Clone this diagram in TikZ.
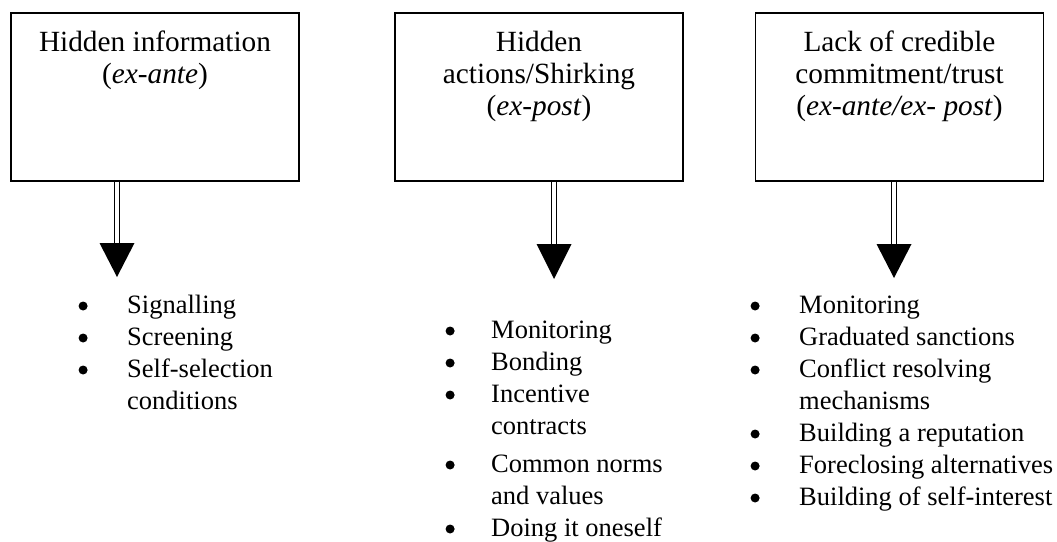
\documentclass[tikz,border=0pt]{standalone}
\usepackage{fontspec}
\setmainfont{Liberation Serif}
\usetikzlibrary{calc}

\tikzset{
  problembox/.style={draw, line width=1.6pt, minimum width=288pt, minimum height=168pt, inner sep=0pt},
  headtext/.style={anchor=base, inner sep=0pt, font=\fontsize{29.3}{32}\selectfont},
  listtext/.style={anchor=base west, inner sep=0pt, font=\fontsize{26.5}{32}\selectfont},
  shaft/.style={double, line width=1.3pt, double distance=3.7pt},
  headfill/.style={fill=black}
}

% round list bullet, sized like a word-processor bullet
\newcommand{\listdot}{\makebox[9.3pt][l]{\tikz[baseline=0pt]\fill (4.65pt,7pt) circle (4.5pt);}}

\begin{document}
\begin{tikzpicture}[x=1pt,y=-1pt]
\useasboundingbox (0,0) rectangle (1057,541);

% the three problem boxes
\node[problembox] (b1) at (155,97) {};
\node[problembox] (b2) at (539,97) {};
\node[problembox] (b3) at (899.5,97) {};

% box titles
\node[headtext] (t1) at (155,51) {\begin{tabular}[t]{@{}c@{}}Hidden information\\(\textit{ex-ante})\end{tabular}};
\node[headtext] (t2) at (539,51) {\begin{tabular}[t]{@{}c@{}}Hidden\\actions/Shirking\\(\textit{ex-post})\end{tabular}};
\node[headtext] (t3) at (899.5,51) {\begin{tabular}[t]{@{}c@{}}Lack of credible\\commitment/trust\\(\textit{ex-ante/ex- post})\end{tabular}};

% arrow heads: base and tip points
\coordinate (hb1) at (117,243);  \coordinate (tip1) at (117,277);
\coordinate (hb2) at (554,244);  \coordinate (tip2) at (554,279);
\coordinate (hb3) at (894,244);  \coordinate (tip3) at (894,278);

% double shafts from each box down to its arrow head
\draw[shaft] (b1.south -| hb1) -- (hb1);
\draw[shaft] (b2.south -| hb2) -- (hb2);
\draw[shaft] (b3.south -| hb3) -- (hb3);

% filled triangular heads
\fill[headfill] ($(hb1)+(-17.5,0)$) -- ($(hb1)+(17.5,0)$) -- (tip1) -- cycle;
\fill[headfill] ($(hb2)+(-17.5,0)$) -- ($(hb2)+(17.5,0)$) -- (tip2) -- cycle;
\fill[headfill] ($(hb3)+(-17.5,0)$) -- ($(hb3)+(17.5,0)$) -- (tip3) -- cycle;

% remedies under each problem
\node[listtext] (l1) at (78.4,313) {\begin{tabular}[t]{@{}l@{\hspace{39.3pt}}l@{}}
\listdot & Signalling\\
\listdot & Screening\\
\listdot & Self-selection\\
 & conditions
\end{tabular}};

\node[listtext] (l2) at (445.4,338) {\begin{tabular}[t]{@{}l@{\hspace{36.3pt}}l@{}}
\listdot & Monitoring\\
\listdot & Bonding\\
\listdot & Incentive\\
 & contracts\\[6pt]
\listdot & Common norms\\
 & and values\\
\listdot & Doing it oneself
\end{tabular}};

\node[listtext] (l3) at (750.4,313) {\begin{tabular}[t]{@{}l@{\hspace{39.3pt}}l@{}}
\listdot & Monitoring\\
\listdot & Graduated sanctions\\
\listdot & Conflict resolving\\
 & mechanisms\\
\listdot & Building a reputation\\
\listdot & Foreclosing alternatives\\
\listdot & Building of self-interest
\end{tabular}};
\end{tikzpicture}
\end{document}
